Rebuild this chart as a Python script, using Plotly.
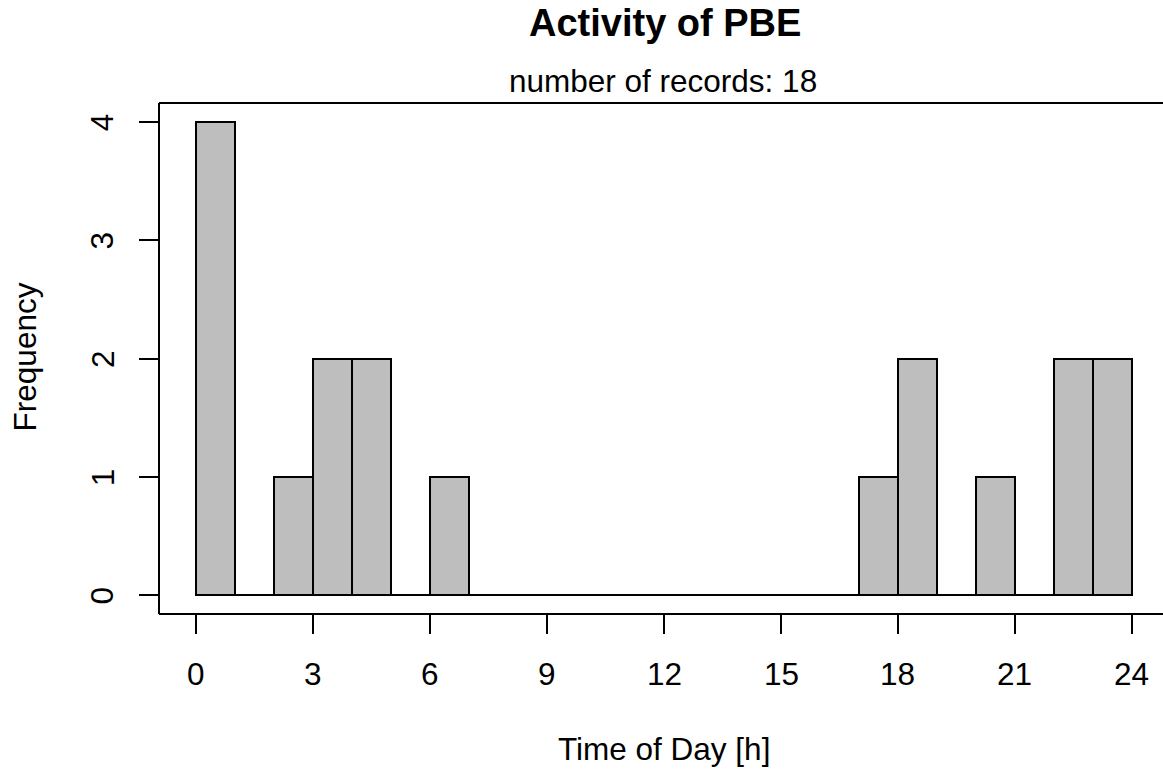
import plotly.graph_objects as go

# Hourly activity counts (1-hour bins from 0 to 24)
bin_edges = list(range(0, 25))
counts = [4, 0, 1, 2, 2, 0, 1, 0, 0, 0, 0, 0, 0, 0, 0, 0, 0, 1, 2, 0, 1, 0, 2, 2]
x_ticks = [0, 3, 6, 9, 12, 15, 18, 21, 24]
y_ticks = [0, 1, 2, 3, 4]

main_title = "Activity of PBE"
sub_title = "number of records: %d" % sum(counts)
x_label = "Time of Day [h]"
y_label = "Frequency"

FONT = "Liberation Sans, Arial, sans-serif"
FS = 31.5
W, H = 1163, 770
ML, MR, MT, MB = 159, 0, 103, 156

centers = [(a + b) / 2 for a, b in zip(bin_edges[:-1], bin_edges[1:])]
widths = [b - a for a, b in zip(bin_edges[:-1], bin_edges[1:])]

fig = go.Figure()

fig.add_trace(go.Bar(
    x=centers, y=counts, width=widths,
    marker=dict(color="#BEBEBE", line=dict(color="black", width=2)),
    hoverinfo="skip", showlegend=False,
))

# empty bins are drawn as flat outlines along the baseline
fig.add_trace(go.Scatter(
    x=[bin_edges[0], bin_edges[-1]], y=[0, 0], mode="lines",
    line=dict(color="black", width=2), hoverinfo="skip", showlegend=False,
))

plot_h = H - MT - MB


def py(pix):
    """pixel row -> paper y"""
    return (H - MB - pix) / plot_h


def px(pix):
    """pixel column -> paper x"""
    return (pix - ML) / (W - ML - MR)


ann = [
    dict(text="<b>%s</b>" % main_title, x=px(664.5), y=py(23.5), font=dict(size=38)),
    dict(text=sub_title, x=px(663), y=py(81), font=dict(size=FS)),
    dict(text=x_label, x=px(664), y=py(748.5), font=dict(size=FS)),
    dict(text=y_label, x=px(24.7), y=py(356.7), font=dict(size=FS), textangle=-90),
]

# tick labels, placed on the axis scales at each tick value
for v in x_ticks:
    ann.append(dict(text=str(v), x=v, xref="x", y=py(653.5), yanchor="top",
                    font=dict(size=FS)))
for v in y_ticks:
    ann.append(dict(text=str(v), y=v, yref="y", x=px(102.4), font=dict(size=FS),
                    textangle=-90))

for a in ann:
    a.setdefault("xref", "paper")
    a.setdefault("yref", "paper")
    a.setdefault("xanchor", "center")
    a.setdefault("yanchor", "middle")
    a["showarrow"] = False
    a["font"].update(family=FONT, color="black")

# open frame: left, top and bottom sides
box = dict(type="line", xref="paper", yref="paper", line=dict(color="black", width=2))
shapes = [
    dict(box, x0=0, x1=1, y0=1, y1=1),
    dict(box, x0=0, x1=1, y0=0, y1=0),
    dict(box, x0=0, x1=0, y0=0, y1=1),
]

fig.update_layout(
    width=W, height=H,
    margin=dict(l=ML, r=MR, t=MT, b=MB, pad=0),
    paper_bgcolor="white", plot_bgcolor="white",
    font=dict(family=FONT, size=FS, color="black"),
    bargap=0,
    annotations=ann,
    shapes=shapes,
    xaxis=dict(
        range=[-0.96, 24.80], tickmode="array", tickvals=x_ticks,
        showticklabels=False,
        ticks="outside", ticklen=19, tickwidth=2, tickcolor="black",
        showgrid=False, zeroline=False, showline=False,
    ),
    yaxis=dict(
        range=[-0.16, 4.16], tickmode="array", tickvals=y_ticks,
        showticklabels=False,
        ticks="outside", ticklen=19, tickwidth=2, tickcolor="black",
        showgrid=False, zeroline=False, showline=False,
    ),
)

fig.write_html("out.html")
